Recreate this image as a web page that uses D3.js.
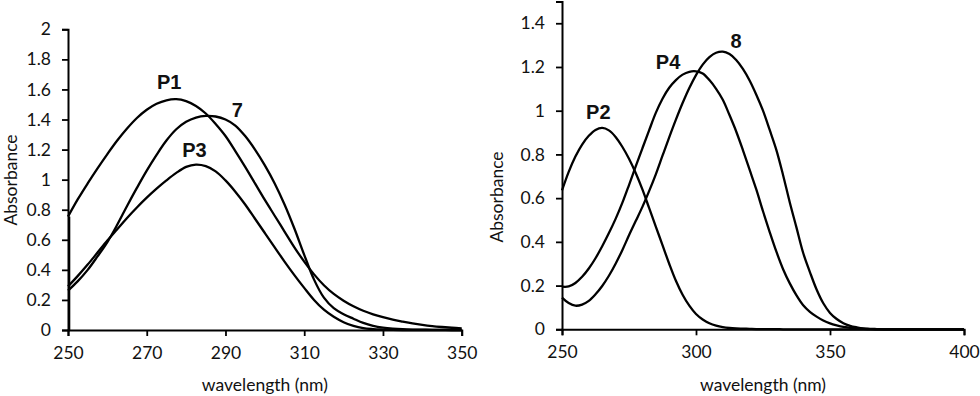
<!DOCTYPE html>
<html><head><meta charset="utf-8">
<script src="https://cdn.jsdelivr.net/npm/d3@7"></script>
<style>
html,body{margin:0;padding:0;background:#fff;}
svg{display:block;}
.tick text{font-family:Lato,"Open Sans",sans-serif;font-size:17.5px;fill:#111;}
.axtitle{font-family:Lato,"Open Sans",sans-serif;font-size:17.5px;fill:#111;}
.lbl{font-family:"Liberation Sans",Arial,sans-serif;font-weight:bold;font-size:20px;fill:#111;}
</style></head>
<body><svg id="c" width="980" height="396"></svg>
<script>
// ---------- Left panel data ----------
const wlLeft = [250,252.5,255,257.5,260,262.5,265,267.5,270,272.5,275,277.5,280,282.5,285,287.5,290,292.5,295,297.5,300,302.5,305,307.5,310,312.5,315,317.5,320,322.5,325,327.5,330,332.5,335,337.5,340,342.5,345,347.5,350];
const absP1 = [0.754,0.87,0.975,1.075,1.17,1.26,1.34,1.41,1.465,1.505,1.528,1.535,1.522,1.49,1.44,1.37,1.29,1.19,1.085,0.975,0.865,0.76,0.655,0.55,0.455,0.37,0.298,0.24,0.195,0.158,0.128,0.104,0.085,0.069,0.056,0.044,0.034,0.026,0.02,0.015,0.011];
const abs7 = [0.262,0.325,0.40,0.49,0.585,0.70,0.825,0.945,1.06,1.165,1.26,1.335,1.385,1.413,1.424,1.42,1.40,1.36,1.29,1.20,1.095,0.975,0.835,0.675,0.50,0.335,0.215,0.145,0.105,0.075,0.047,0.028,0.016,0.009,0.005,0.003,0.002,0.001,0.001,0,0];
const absP3 = [0.29,0.36,0.435,0.515,0.595,0.67,0.745,0.815,0.88,0.94,0.995,1.045,1.085,1.10,1.09,1.055,0.995,0.92,0.835,0.74,0.645,0.55,0.455,0.365,0.28,0.2,0.135,0.088,0.052,0.027,0.012,0.006,0.003,0.001,0,0,0,0,0,0,0];
const xTicksLeft = [250,270,290,310,330,350];
const yTicksLeft = [0,0.2,0.4,0.6,0.8,1,1.2,1.4,1.6,1.8,2];

// ---------- Right panel data ----------
const wlRight = [250,252.5,255,257.5,260,262.5,265,267.5,270,272.5,275,277.5,280,282.5,285,287.5,290,292.5,295,297.5,300,302.5,305,307.5,310,312.5,315,317.5,320,322.5,325,327.5,330,332.5,335,337.5,340,342.5,345,347.5,350,352.5,355,357.5,360,362.5,365,367.5,370,375,380,385,390,395,400];
const absP2 = [0.635,0.72,0.79,0.845,0.885,0.912,0.921,0.91,0.88,0.835,0.78,0.715,0.64,0.555,0.47,0.385,0.30,0.222,0.158,0.108,0.07,0.045,0.028,0.017,0.01,0.006,0.004,0.003,0.002,0.001,0.001,0.001,0.001,0,0,0,0,0,0,0,0,0,0,0,0,0,0,0,0,0,0,0,0,0,0];
const absP4 = [0.195,0.196,0.212,0.24,0.278,0.325,0.38,0.44,0.505,0.578,0.66,0.745,0.828,0.91,0.99,1.055,1.105,1.14,1.165,1.178,1.18,1.17,1.14,1.10,1.05,0.98,0.905,0.82,0.73,0.64,0.54,0.445,0.355,0.275,0.21,0.155,0.11,0.08,0.058,0.04,0.027,0.018,0.011,0.007,0.004,0.002,0.001,0,0,0,0,0,0,0,0];
const abs8 = [0.145,0.12,0.108,0.113,0.13,0.16,0.198,0.245,0.30,0.362,0.43,0.495,0.56,0.632,0.709,0.794,0.878,0.959,1.035,1.104,1.163,1.211,1.245,1.265,1.27,1.259,1.232,1.191,1.138,1.073,1.0,0.912,0.82,0.705,0.58,0.465,0.349,0.262,0.182,0.119,0.075,0.047,0.028,0.016,0.009,0.004,0.002,0.001,0,0,0,0,0,0,0];
const xTicksRight = [250,300,350,400];
const yTicksRight = [0,0.2,0.4,0.6,0.8,1,1.2,1.4];

const svg = d3.select("#c");

function panel(cfg){
  const g = svg.append("g");
  const x = d3.scaleLinear().domain(cfg.xDomain).range(cfg.xRange);
  const y = d3.scaleLinear().domain(cfg.yDomain).range(cfg.yRange);

  const xa = g.append("g").attr("transform",`translate(0,${cfg.yRange[0]})`)
    .call(d3.axisBottom(x).tickValues(cfg.xTicks).tickFormat(d3.format("d")).tickSizeOuter(0).tickSize(6).tickPadding(10.5));
  const ya = g.append("g").attr("transform",`translate(${cfg.xRange[0]},0)`)
    .call(d3.axisLeft(y).tickValues(cfg.yTicks).tickFormat(d=>String(+d.toFixed(1))).tickSizeOuter(0).tickSize(6).tickPadding(11));
  [xa,ya].forEach(a=>{
    a.select(".domain").attr("stroke","#000").attr("stroke-width",2);
    a.selectAll(".tick line").attr("stroke","#000").attr("stroke-width",1.8);
  });

  const line = d3.line().x(d=>x(d[0])).y(d=>y(d[1])).curve(d3.curveCatmullRom.alpha(0.5));
  cfg.series.forEach(s=>{
    const pts = cfg.wl.map((w,i)=>[w,s.values[i]]);
    g.append("path").datum(pts).attr("d",line)
      .attr("fill","none").attr("stroke","#000").attr("stroke-width",2.3).attr("stroke-linejoin","round");
    if(s.drop){
      g.append("line").attr("x1",x(cfg.wl[0])+1.2).attr("x2",x(cfg.wl[0])+1.2)
        .attr("y1",y(0)).attr("y2",y(s.values[0]))
        .attr("stroke","#000").attr("stroke-width",2.2);
    }
    g.append("text").attr("class","lbl").attr("x",x(s.lx)).attr("y",y(s.ly)).text(s.name);
  });

  g.append("text").attr("class","axtitle").attr("text-anchor","middle")
    .attr("x",(cfg.xRange[0]+cfg.xRange[1])/2).attr("y",cfg.xTitleY).text("wavelength (nm)");
  g.append("text").attr("class","axtitle").attr("text-anchor","middle")
    .attr("transform",`translate(${cfg.yTitleX},${cfg.yTitleY}) rotate(-90)`).text("Absorbance");
}

panel({
  xDomain:[250,350], xRange:[68,461.7], yDomain:[0,2], yRange:[330,29.3],
  xTicks:xTicksLeft, yTicks:yTicksLeft, wl:wlLeft,
  xTitleY:391, yTitleX:17, yTitleY:180,
  series:[
    {name:"P1", values:absP1, lx:272.6, ly:1.60, drop:true},
    {name:"7", values:abs7, lx:291.6, ly:1.415},
    {name:"P3", values:absP3, lx:279.0, ly:1.149}
  ]
});
panel({
  xDomain:[250,400], xRange:[562,964], yDomain:[0,1.5], yRange:[329.3,1.4],
  xTicks:xTicksRight, yTicks:yTicksRight, wl:wlRight,
  xTitleY:391, yTitleX:503, yTitleY:197,
  series:[
    {name:"P2", values:absP2, lx:259.0, ly:0.962},
    {name:"P4", values:absP4, lx:285.0, ly:1.19},
    {name:"8", values:abs8, lx:312.9, ly:1.286}
  ]
});
</script></body></html>
